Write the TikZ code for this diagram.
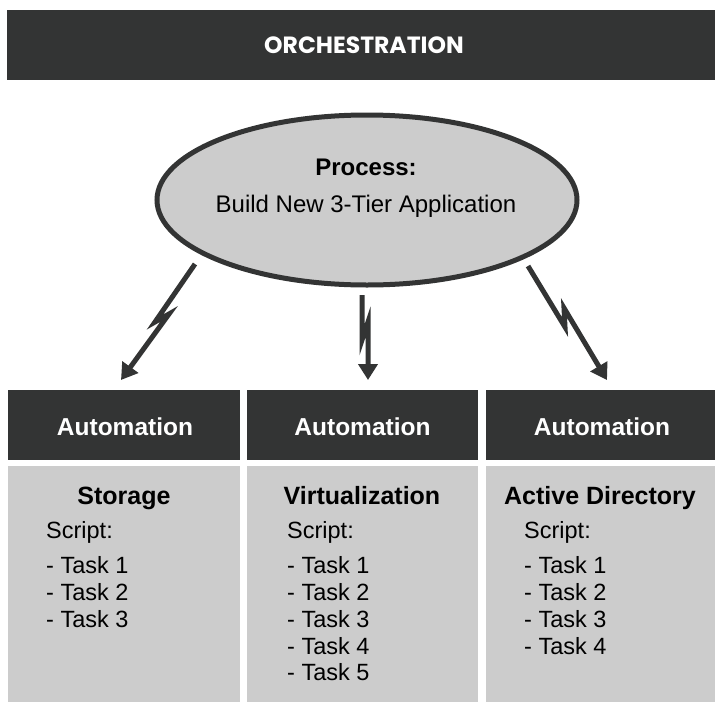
\documentclass[tikz,border=0pt]{standalone}
\usepackage{fontspec}
\setmainfont{Liberation Sans}
\newfontfamily\headfont{Poppins}
\usetikzlibrary{arrows.meta,shapes.geometric}
\definecolor{dark}{HTML}{333434}
\definecolor{lgray}{HTML}{CCCCCC}
\begin{document}
\begin{tikzpicture}[x=1pt,y=-1pt,
  darkbox/.style={fill=dark, draw=none, inner sep=0pt},
  graybox/.style={fill=lgray, draw=none, inner sep=0pt},
  headtxt/.style={text=white, font=\bfseries\fontsize{24.5}{28}\selectfont, anchor=base, inner sep=0pt},
  titletxt/.style={text=black, font=\bfseries\fontsize{25}{29}\selectfont, anchor=base, inner sep=0pt},
  linetxt/.style={text=black, font=\fontsize{23.5}{27}\selectfont, anchor=base west, inner sep=0pt},
  bolt/.style={draw=dark, line width=5pt, line join=miter, -{Triangle[length=16pt,width=19pt]}}
]
\useasboundingbox (0,0) rectangle (715,702);

% top bar
\node[darkbox, minimum width=708pt, minimum height=70pt] (orch) at (361,45) {};
\node[text=white, font=\headfont\bfseries\fontsize{23.5}{27}\selectfont, anchor=base, inner sep=0pt] (orcht) at (364,53) {ORCHESTRATION};

% ellipse
\node[ellipse, draw=dark, line width=5pt, fill=lgray, minimum width=420pt, minimum height=170pt, inner sep=0pt] (proc) at (367,200) {};
\node[font=\bfseries\fontsize{24}{28}\selectfont, anchor=base, inner sep=0pt] (proct) at (366,175) {Process:};
\node[font=\fontsize{24}{28}\selectfont, anchor=base, inner sep=0pt] (procb) at (366,212) {Build New 3-Tier Application};

% automation headers
\node[darkbox, minimum width=232pt, minimum height=70pt] (h1) at (124,425) {};
\node[darkbox, minimum width=231pt, minimum height=70pt] (h2) at (362.5,425) {};
\node[darkbox, minimum width=229pt, minimum height=70pt] (h3) at (600.5,425) {};
\node[headtxt] (h1t) at (125,435) {Automation};
\node[headtxt] (h2t) at (362.5,435) {Automation};
\node[headtxt] (h3t) at (602,435) {Automation};

% gray bodies
\node[graybox, minimum width=232pt, minimum height=236pt] (b1) at (124,584) {};
\node[graybox, minimum width=231pt, minimum height=236pt] (b2) at (362.5,584) {};
\node[graybox, minimum width=229pt, minimum height=236pt] (b3) at (600.5,584) {};

\node[titletxt] (t1) at (124,504) {Storage};
\node[titletxt] (t2) at (362,504) {Virtualization};
\node[titletxt] (t3) at (600,504) {Active Directory};

% column 1
\node[linetxt] (c1s) at (46,538) {Script:};
\node[linetxt] (c1a) at (46,573) {- Task 1};
\node[linetxt] (c1b) at (46,600) {- Task 2};
\node[linetxt] (c1c) at (46,627) {- Task 3};
% column 2
\node[linetxt] (c2s) at (287,538) {Script:};
\node[linetxt] (c2a) at (287,573) {- Task 1};
\node[linetxt] (c2b) at (287,600) {- Task 2};
\node[linetxt] (c2c) at (287,627) {- Task 3};
\node[linetxt] (c2d) at (287,654) {- Task 4};
\node[linetxt] (c2e) at (287,680) {- Task 5};
% column 3
\node[linetxt] (c3s) at (524,538) {Script:};
\node[linetxt] (c3a) at (524,573) {- Task 1};
\node[linetxt] (c3b) at (524,600) {- Task 2};
\node[linetxt] (c3c) at (524,627) {- Task 3};
\node[linetxt] (c3d) at (524,654) {- Task 4};

% bolt arrows
\coordinate (s1) at (195,264);
\coordinate (e1) at (121,380);
\coordinate (s2) at (362,295);
\coordinate (e2) at (368,380);
\coordinate (s3) at (528,266);
\coordinate (e3) at (607,380);
\draw[bolt] (s1) -- (155,322) -- (169,314) -- (e1);
\draw[bolt] (s2) -- (362,340) -- (368,322) -- (e2);
\draw[bolt] (s3) -- (565,327) -- (564,308) -- (e3);
\end{tikzpicture}
\end{document}
